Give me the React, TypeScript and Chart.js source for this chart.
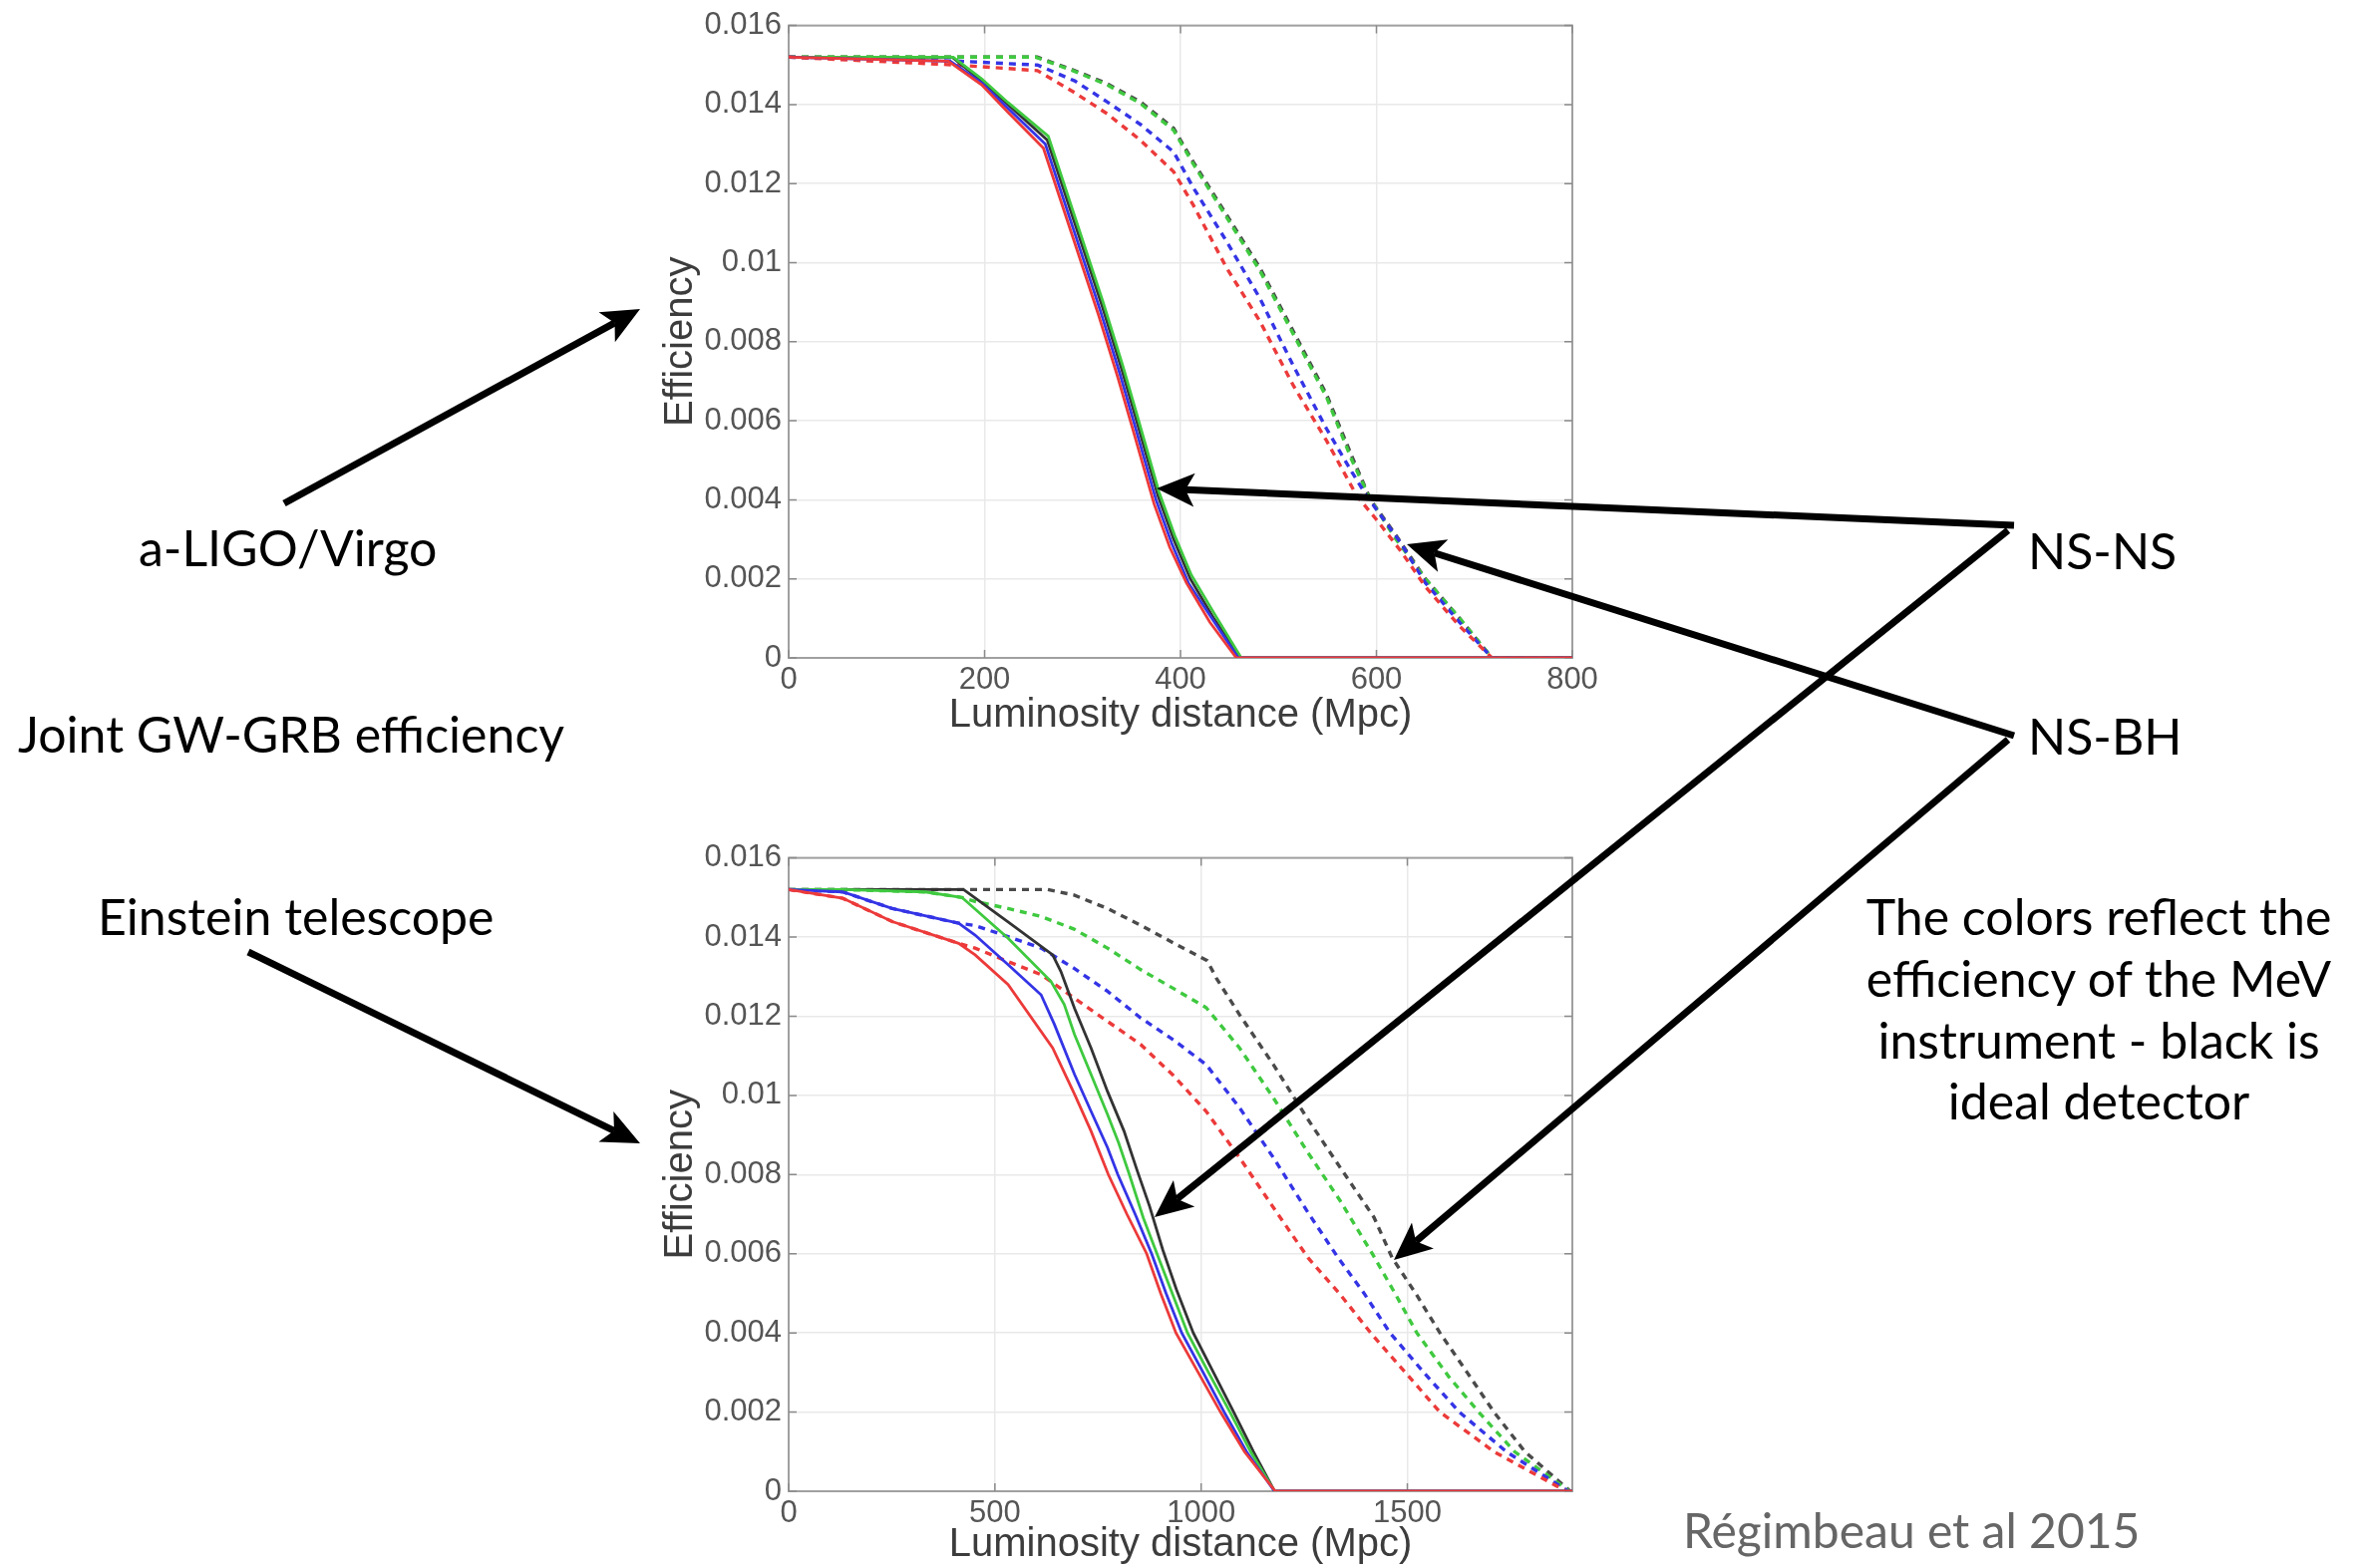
import React, { useEffect, useRef } from 'react';
import { Chart, registerables } from 'chart.js';

Chart.register(...registerables);

// ---------- tick values / labels ----------
const topXTicks = [0, 200, 400, 600, 800];
const topXTickLabels = ['0', '200', '400', '600', '800'];
const bottomXTicks = [0, 500, 1000, 1500];
const bottomXTickLabels = ['0', '500', '1000', '1500'];
const yTicks = [0, 0.002, 0.004, 0.006, 0.008, 0.01, 0.012, 0.014, 0.016];
const yTickLabels = ['0', '0.002', '0.004', '0.006', '0.008', '0.01', '0.012', '0.014', '0.016'];
const topXMax = 800;
const bottomXMax = 1900;
const yMax = 0.016;

// ---------- a-LIGO/Virgo : NS-NS (solid) ----------
const topNSNSBlack = [[0, .0152], [167, .0152], [197, .0146], [224, .0140], [264, .0131], [292, .0110], [320, .0089], [340, .0073], [354, .0061], [377, .0041], [393, .0030], [410, .0020], [434, .0010], [461, 0], [800, 0]];
const topNSNSGreen = [[0, .0152], [168, .0152], [197, .01465], [224, .01405], [265, .0132], [293, .0111], [321, .0090], [341, .0074], [355, .0062], [378, .0042], [394, .0031], [411, .0021], [435, .0011], [462, 0], [800, 0]];
const topNSNSBlue = [[0, .0152], [165, .0151], [197, .01455], [224, .0139], [262, .0130], [290, .0109], [318, .0088], [338, .0072], [352, .0060], [375, .0040], [391, .0029], [408, .0019], [432, .0010], [459, 0], [800, 0]];
const topNSNSRed = [[0, .0152], [163, .0151], [197, .0145], [224, .0138], [260, .0129], [288, .0108], [316, .0087], [336, .0071], [350, .0059], [373, .0039], [389, .0028], [406, .0019], [430, .0009], [457, 0], [800, 0]];

// ---------- a-LIGO/Virgo : NS-BH (dashed) ----------
const topNSBHBlack = [[0, .0152], [172, .0152], [254, .0152], [292, .01486], [325, .01453], [359, .01407], [393, .0134], [413, .01255], [447, .01121], [481, .00987], [515, .00827], [549, .00667], [575, .0051], [594, .0040], [620, .0031], [650, .0020], [685, .0010], [718, 0], [800, 0]];
const topNSBHGreen = [[0, .0152], [172, .0152], [252, .0152], [292, .01484], [325, .0145], [359, .01403], [393, .01335], [413, .0125], [447, .01115], [481, .0098], [515, .0082], [549, .0066], [575, .0050], [594, .0040], [620, .0030], [650, .0020], [685, .0010], [718, 0], [800, 0]];
const topNSBHBlue = [[0, .0152], [172, .0151], [254, .0150], [292, .0146], [325, .01407], [359, .0135], [393, .0128], [413, .0119], [447, .01054], [481, .0091], [515, .0074], [549, .0058], [575, .0047], [590, .0041], [625, .0029], [650, .0019], [685, .0009], [718, 0], [800, 0]];
const topNSBHRed = [[0, .0152], [172, .0150], [254, .01486], [292, .0143], [325, .01377], [359, .0131], [393, .0123], [413, .01146], [447, .00987], [481, .00852], [515, .0069], [549, .0055], [580, .0041], [600, .0035], [625, .0027], [650, .0018], [685, .0008], [718, 0], [800, 0]];

// ---------- Einstein telescope : NS-NS (solid) ----------
const botNSNSBlack = [[0, .0152], [424, .0152], [532, .01438], [640, .01355], [660, .01313], [693, .0122], [733, .0112], [773, .0101], [813, .0091], [845, .0081], [875, .0072], [907, .0061], [940, .0051], [981, .0040], [1030, .0030], [1079, .0020], [1127, .0010], [1178, 0], [1900, 0]];
const botNSNSGreen = [[0, .0152], [131, .0152], [331, .01514], [420, .0150], [532, .01397], [636, .01288], [668, .0123], [693, .01154], [733, .01053], [773, .00952], [800, .0088], [826, .0080], [860, .0069], [893, .0060], [930, .0050], [967, .0040], [1018, .0030], [1070, .0020], [1120, .0010], [1178, 0], [1900, 0]];
const botNSNSBlue = [[0, .0152], [131, .01514], [251, .01472], [412, .01435], [452, .01405], [532, .0133], [612, .01254], [644, .0118], [693, .01053], [733, .0096], [773, .00868], [798, .0080], [840, .0070], [880, .0060], [915, .0050], [953, .0040], [1005, .0030], [1056, .0020], [1110, .0010], [1178, 0], [1900, 0]];
const botNSNSRed = [[0, .0152], [131, .01498], [251, .01439], [412, .01384], [452, .01355], [532, .0128], [640, .0112], [693, .01003], [733, .0091], [775, .0080], [820, .0070], [868, .0060], [902, .0050], [939, .0040], [993, .0030], [1047, .0020], [1105, .0010], [1180, 0], [1900, 0]];

// ---------- Einstein telescope : NS-BH (dashed) ----------
const botNSBHBlack = [[0, .0152], [424, .0152], [628, .0152], [692, .01506], [773, .01472], [853, .0143], [933, .01385], [1015, .0134], [1037, .01296], [1093, .01204], [1175, .01078], [1256, .00944], [1337, .00818], [1419, .00692], [1463, .0059], [1520, .0050], [1579, .0040], [1645, .0030], [1710, .0020], [1785, .0010], [1895, 0], [1900, 0]];
const botNSBHGreen = [[0, .0152], [131, .0152], [331, .01514], [420, .0150], [452, .0149], [532, .01472], [612, .01452], [692, .0142], [773, .01372], [853, .01318], [933, .0127], [1012, .01222], [1093, .0112], [1175, .00994], [1256, .0086], [1337, .00734], [1415, .0060], [1470, .0050], [1523, .0040], [1600, .0029], [1673, .0020], [1760, .0010], [1893, 0], [1900, 0]];
const botNSBHBlue = [[0, .0152], [131, .01514], [251, .01472], [412, .01435], [452, .01429], [532, .01401], [612, .01372], [692, .01321], [773, .01263], [853, .01196], [933, .0114], [1012, .01078], [1093, .00969], [1175, .00843], [1256, .00709], [1332, .0059], [1395, .0050], [1458, .0040], [1540, .0030], [1626, .0020], [1740, .0010], [1890, 0], [1900, 0]];
const botNSBHRed = [[0, .0152], [131, .01498], [251, .01439], [412, .01384], [452, .01372], [532, .01338], [612, .01305], [692, .01246], [773, .01187], [853, .01129], [933, .0105], [1012, .0096], [1093, .00843], [1175, .00717], [1259, .0059], [1335, .0050], [1411, .0040], [1495, .0030], [1579, .0020], [1710, .0010], [1885, 0], [1900, 0]];

// ---------- styling ----------
const COLORS = { black: '#333333', green: '#3fc93f', blue: '#3434e6', red: '#ec3a3a' };
const DASH_BLACK = '#4a4a4a';
const AXIS_FONT = '"Liberation Sans", Arial, Helvetica, sans-serif';
const ANNOT_FONT = 'Lato, "Open Sans", sans-serif';

type Pair = number[];

function makeDatasets(solid: Record<string, Pair[]>, dashed: Record<string, Pair[]>) {
  const order = ['red', 'blue', 'green', 'black'];
  const sets: any[] = [];
  order.forEach((c) => {
    sets.push({
      label: 'NS-NS ' + c,
      data: solid[c].map(([x, y]) => ({ x, y })),
      borderColor: (COLORS as any)[c],
      borderWidth: 2.8,
      pointRadius: 0,
      fill: false,
      tension: 0,
    });
  });
  order.forEach((c) => {
    sets.push({
      label: 'NS-BH ' + c,
      data: dashed[c].map(([x, y]) => ({ x, y })),
      borderColor: c === 'black' ? DASH_BLACK : (COLORS as any)[c],
      borderWidth: 3.4,
      borderDash: [7, 6],
      pointRadius: 0,
      fill: false,
      tension: 0,
    });
  });
  return sets;
}

const boxPlugin = {
  id: 'matlabBox',
  beforeDatasetsDraw(chart: any) {
    const { ctx, chartArea: a, scales } = chart;
    ctx.save();
    ctx.strokeStyle = '#a0a0a0';
    ctx.lineWidth = 2;
    ctx.strokeRect(a.left, a.top, a.right - a.left, a.bottom - a.top);
    const L = 8;
    ctx.beginPath();
    scales.x.ticks.forEach((t: any) => {
      const px = scales.x.getPixelForValue(t.value);
      ctx.moveTo(px, a.bottom); ctx.lineTo(px, a.bottom - L);
      ctx.moveTo(px, a.top); ctx.lineTo(px, a.top + L);
    });
    scales.y.ticks.forEach((t: any) => {
      const py = scales.y.getPixelForValue(t.value);
      ctx.moveTo(a.left, py); ctx.lineTo(a.left + L, py);
      ctx.moveTo(a.right, py); ctx.lineTo(a.right - L, py);
    });
    ctx.strokeStyle = '#8a8a8a';
    ctx.lineWidth = 1.5;
    ctx.stroke();
    ctx.restore();
  },
};

function buildConfig(
  datasets: any[], xMax: number, xTicks: number[], xLabels: string[],
  canvasH: number, plotBottomInCanvas: number, xTitleBottomPad: number
) {
  return {
    type: 'line' as const,
    data: { datasets },
    plugins: [boxPlugin],
    options: {
      responsive: false,
      maintainAspectRatio: false,
      animation: false,
      devicePixelRatio: 1,
      layout: { padding: { top: 24, right: 63, left: 0, bottom: 0 } },
      plugins: { legend: { display: false }, tooltip: { enabled: false } },
      elements: { point: { radius: 0 } },
      scales: {
        x: {
          type: 'linear',
          min: 0,
          max: xMax,
          afterBuildTicks: (s: any) => { s.ticks = xTicks.map((v) => ({ value: v })); },
          afterFit: (s: any) => { s.height = canvasH - plotBottomInCanvas; },
          ticks: {
            autoSkip: false, maxRotation: 0, padding: 4, color: '#555',
            font: { family: AXIS_FONT, size: 31 },
            callback: (v: any) => xLabels[xTicks.indexOf(Number(v))] ?? '',
          },
          grid: { color: '#e9e9e9', lineWidth: 1.5, drawTicks: false },
          border: { display: false },
          title: {
            display: true, text: 'Luminosity distance (Mpc)', color: '#3c3c3c',
            font: { family: AXIS_FONT, size: 40 }, padding: { top: 0, bottom: xTitleBottomPad },
          },
        },
        y: {
          type: 'linear',
          min: 0,
          max: yMax,
          afterBuildTicks: (s: any) => { s.ticks = yTicks.map((v) => ({ value: v })); },
          afterFit: (s: any) => { s.width = 191; },
          ticks: {
            autoSkip: false, padding: 7, color: '#555',
            font: { family: AXIS_FONT, size: 31 },
            callback: (_v: any, i: number) => yTickLabels[i] ?? '',
          },
          grid: { color: '#e9e9e9', lineWidth: 1.5, drawTicks: false },
          border: { display: false },
          title: {
            display: true, text: 'Efficiency', color: '#3c3c3c',
            font: { family: AXIS_FONT, size: 40 }, padding: { top: 59, bottom: 0 },
          },
        },
      },
    },
  };
}

function PlotCanvas(props: { left: number; top: number; width: number; height: number; makeConfig: () => any }) {
  const ref = useRef<HTMLCanvasElement | null>(null);
  useEffect(() => {
    if (!ref.current) return;
    const chart = new Chart(ref.current, props.makeConfig());
    return () => chart.destroy();
  }, []);
  return (
    <canvas
      ref={ref}
      width={props.width}
      height={props.height}
      style={{ position: 'absolute', left: props.left, top: props.top, width: props.width, height: props.height }}
    />
  );
}

function Arrow(props: { x1: number; y1: number; x2: number; y2: number }) {
  const { x1, y1, x2, y2 } = props;
  const len = 38, half = 17, notch = 9;
  const dx = x2 - x1, dy = y2 - y1;
  const d = Math.hypot(dx, dy);
  const ux = dx / d, uy = dy / d;
  const px = -uy, py = ux;
  const bx = x2 - ux * len, by = y2 - uy * len;
  const nx = x2 - ux * (len - notch), ny = y2 - uy * (len - notch);
  const pts = [
    [x2, y2], [bx + px * half, by + py * half], [nx, ny], [bx - px * half, by - py * half],
  ].map((p) => p.join(',')).join(' ');
  return (
    <g>
      <line x1={x1} y1={y1} x2={nx} y2={ny} stroke="#000" strokeWidth={7} strokeLinecap="butt" />
      <polygon points={pts} fill="#000" />
    </g>
  );
}

export default function App() {
  const W = 2369, H = 1573;
  return (
    <div style={{ position: 'fixed', left: 0, top: 0, width: W, height: H, overflow: 'hidden', background: '#fff' }}>
      <PlotCanvas
        left={600} top={0} width={1040} height={770}
        makeConfig={() => buildConfig(
          makeDatasets(
            { black: topNSNSBlack, green: topNSNSGreen, blue: topNSNSBlue, red: topNSNSRed },
            { black: topNSBHBlack, green: topNSBHGreen, blue: topNSBHBlue, red: topNSBHRed }
          ),
          topXMax, topXTicks, topXTickLabels, 770, 660, 28
        )}
      />
      <PlotCanvas
        left={600} top={835} width={1040} height={750}
        makeConfig={() => buildConfig(
          makeDatasets(
            { black: botNSNSBlack, green: botNSNSGreen, blue: botNSNSBlue, red: botNSNSRed },
            { black: botNSBHBlack, green: botNSBHGreen, blue: botNSBHBlue, red: botNSBHRed }
          ),
          bottomXMax, bottomXTicks, bottomXTickLabels, 750, 661, 11
        )}
      />
      <svg width={W} height={H} style={{ position: 'absolute', left: 0, top: 0, pointerEvents: 'none' }}>
        <g fontFamily={ANNOT_FONT} fontSize={50} fill="#000">
          <text x={139} y={568}>a-LIGO/Virgo</text>
          <text x={18} y={755}>Joint GW-GRB efficiency</text>
          <text x={98} y={938}>Einstein telescope</text>
          <text x={2034} y={571}>NS-NS</text>
          <text x={2034} y={757}>NS-BH</text>
          <g textAnchor="middle">
            <text x={2105} y={938}>The colors reflect the</text>
            <text x={2105} y={1000}>efficiency of the MeV</text>
            <text x={2105} y={1062}>instrument - black is</text>
            <text x={2105} y={1123}>ideal detector</text>
          </g>
          <text x={1688} y={1553} fill="#666" fontSize={48}>Régimbeau et al 2015</text>
        </g>
        <Arrow x1={285} y1={505} x2={642} y2={310} />
        <Arrow x1={249} y1={955} x2={642} y2={1147} />
        <Arrow x1={2020} y1={527} x2={1160} y2={490} />
        <Arrow x1={2014} y1={532} x2={1158} y2={1221} />
        <Arrow x1={2020} y1={738} x2={1411} y2={546} />
        <Arrow x1={2014} y1={742} x2={1398} y2={1264} />
      </svg>
    </div>
  );
}
